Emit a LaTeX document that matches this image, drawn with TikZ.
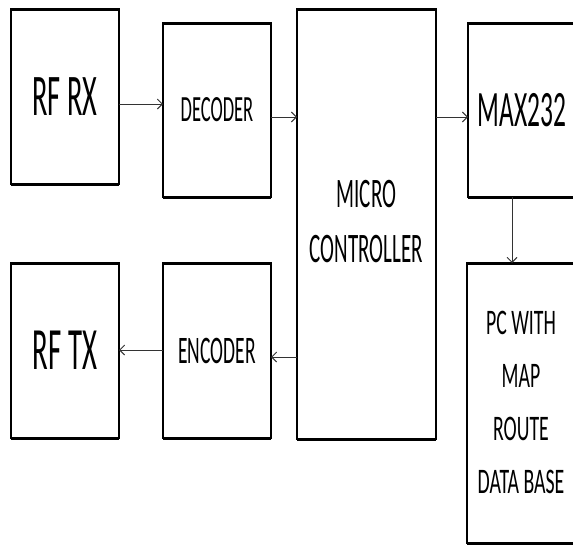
\documentclass[tikz,border=0pt]{standalone}
\usepackage{fontspec}
\setmainfont{Carlito}
\usetikzlibrary{arrows.meta}
\newcommand\cond[3]{\scalebox{#1}[1]{\fontsize{#2}{#2}\selectfont #3}}
\newcommand\condml[4]{\scalebox{#1}[1]{\fontsize{#2}{#3}\selectfont\begin{tabular}{@{}c@{}}#4\end{tabular}}}
\begin{document}
\begin{tikzpicture}[x=1pt,y=-1pt,
  blk/.style={draw=black,line width=1.6pt,fill=white,anchor=north west,inner sep=0pt,outer sep=0pt},
  thinblk/.style={blk,line width=1.2pt},
  edge/.style={line width=3pt,line cap=butt},
  arr/.style={draw=black!80,line width=0.9pt,-{Straight Barb[length=5pt,width=10pt,line width=0.9pt]}}]
\useasboundingbox (0,0) rectangle (573,544);
\node[blk,minimum width=108pt,minimum height=175pt] (rfrx) at (11,9) {\cond{0.48}{59}{RF RX}};
\node[blk,minimum width=108pt,minimum height=174pt] (dec) at (163,23) {\cond{0.5}{37}{DECODER}};
\node[blk,minimum width=139pt,minimum height=430pt] (mcu) at (297,9) {\condml{0.5}{42}{55}{MICRO\\CONTROLLER}};
\node[thinblk,minimum width=108pt,minimum height=174pt] (max) at (468,23) {\cond{0.5}{51}{MAX232}};
\node[thinblk,minimum width=108pt,minimum height=280pt] (pc) at (467,263) {\condml{0.55}{36}{53}{PC WITH\\MAP\\ROUTE\\DATA BASE}};
\node[blk,minimum width=108pt,minimum height=175pt] (rftx) at (11,263) {\cond{0.48}{60}{RF TX}};
\node[blk,minimum width=108pt,minimum height=175pt] (enc) at (163,263) {\cond{0.5}{39}{ENCODER}};
\foreach \n in {rfrx,dec,mcu,max,pc,rftx,enc}{
  \draw[edge] (\n.north west) -- (\n.north east);
  \draw[edge] (\n.south west) -- (\n.south east);
}
\draw[arr] (rfrx.east |- 0,104) -- (dec.west |- 0,104);
\draw[arr] (dec.east |- 0,117) -- (mcu.west |- 0,117);
\draw[arr] (mcu.east |- 0,117) -- (max.west |- 0,117);
\draw[arr] (max.south -| 512,0) -- (pc.north -| 512,0);
\draw[arr] (mcu.west |- 0,357) -- (enc.east |- 0,357);
\draw[arr] (enc.west |- 0,350) -- (rftx.east |- 0,350);
\end{tikzpicture}
\end{document}
